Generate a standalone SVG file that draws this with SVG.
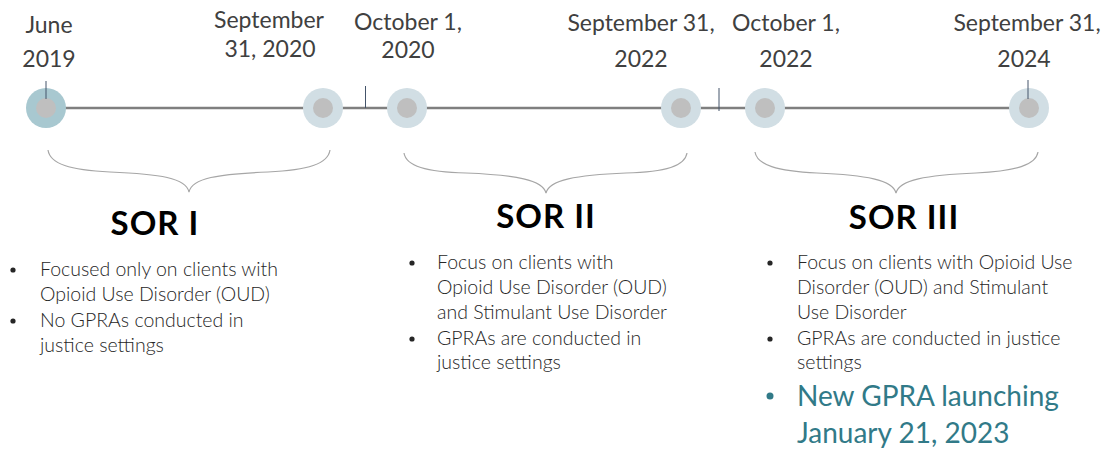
<svg xmlns="http://www.w3.org/2000/svg" width="1104" height="451" viewBox="0 0 1104 451">
<style>
.date{font-family:Lato,"Liberation Sans",sans-serif;font-size:23px;fill:#404040;text-anchor:middle}
.title{font-family:Lato,"Liberation Sans",sans-serif;font-size:33px;font-weight:bold;letter-spacing:1px;fill:#000;text-anchor:middle}
.body{font-family:Lato,"Liberation Sans",sans-serif;font-size:19.5px;font-weight:300;fill:#262626}
.big{font-family:Lato,"Liberation Sans",sans-serif;font-size:28px;fill:#317a88}
.brace{fill:none;stroke:#a6a6a6;stroke-width:1.2}
.tick{stroke:#44546a;stroke-width:1}
.outer{fill:#d1dee4}
.inner{fill:#bfbfbf}
</style>
<rect width="1104" height="451" fill="#fff"/>
<g id="connectors">
<line x1="46" y1="108" x2="1029" y2="108" stroke="#7f7f7f" stroke-width="2.5"/>
<line class="tick" x1="365.5" y1="86" x2="365.5" y2="108"/>
<line class="tick" x1="719" y1="88" x2="719" y2="111"/>
</g>
<g id="node-june2019">
<circle cx="46" cy="108" r="20" fill="#a8c8d0"/>
<circle class="inner" cx="46" cy="108" r="10"/>
<line class="tick" x1="46" y1="81" x2="46" y2="99"/>
<text class="date" x="49" y="33">June</text>
<text class="date" x="49" y="67">2019</text>
</g>
<g id="node-sep2020">
<circle class="outer" cx="323" cy="108" r="20"/>
<circle class="inner" cx="323" cy="108" r="10"/>
<text class="date" x="269" y="28">September</text>
<text class="date" x="270" y="57">31, 2020</text>
</g>
<g id="node-oct2020">
<circle class="outer" cx="407" cy="108" r="20"/>
<circle class="inner" cx="407" cy="108" r="10"/>
<text class="date" x="408" y="30">October 1,</text>
<text class="date" x="408" y="58">2020</text>
</g>
<g id="node-sep2022">
<circle class="outer" cx="681" cy="108" r="20"/>
<circle class="inner" cx="681" cy="108" r="10"/>
<text class="date" x="641" y="31">September 31,</text>
<text class="date" x="641" y="67">2022</text>
</g>
<g id="node-oct2022">
<circle class="outer" cx="765" cy="108" r="20"/>
<circle class="inner" cx="765" cy="108" r="10"/>
<text class="date" x="786" y="31">October 1,</text>
<text class="date" x="786" y="67">2022</text>
</g>
<g id="node-sep2024">
<circle class="outer" cx="1029" cy="108" r="20"/>
<circle class="inner" cx="1029" cy="108" r="10"/>
<line class="tick" x1="1028" y1="80" x2="1028" y2="99"/>
<text class="date" x="1027" y="31">September 31,</text>
<text class="date" x="1024" y="67">2024</text>
</g>
<g id="sor1">
<path class="brace" d="M48,150 C50,164 70,170 110,172 C160,174 186,178 189,192 C192,178 218,174 268,172 C308,170 328,164 330,150"/>
<text class="title" x="155" y="235">SOR I</text>
<g class="body">
<circle cx="13" cy="270" r="2.6" fill="#262626"/>
<text x="40" y="276">Focused only on clients with</text>
<text x="40" y="301">Opioid Use Disorder (OUD)</text>
<circle cx="13" cy="321" r="2.6" fill="#262626"/>
<text x="40" y="327">No GPRAs conducted in</text>
<text x="40" y="352">justice settings</text>
</g>
</g>
<g id="sor2">
<path class="brace" d="M404,153 C406,166 426,172 466,173 C516,175 543,180 546,193 C549,180 576,175 626,173 C666,172 685,166 687,153"/>
<text class="title" x="546" y="228">SOR II</text>
<g class="body">
<circle cx="412" cy="263" r="2.6" fill="#262626"/>
<text x="437" y="269">Focus on clients with</text>
<text x="437" y="294">Opioid Use Disorder (OUD)</text>
<text x="437" y="319">and Stimulant Use Disorder</text>
<circle cx="412" cy="339" r="2.6" fill="#262626"/>
<text x="437" y="345">GPRAs are conducted in</text>
<text x="437" y="369">justice settings</text>
</g>
</g>
<g id="sor3">
<path class="brace" d="M755,152 C757,165 777,171 817,173 C866,175 893,180 896,193 C899,180 926,175 976,173 C1016,171 1036,165 1038,152"/>
<text class="title" x="904" y="229">SOR III</text>
<g class="body">
<circle cx="770" cy="263" r="2.6" fill="#262626"/>
<text x="797" y="269">Focus on clients with Opioid Use</text>
<text x="797" y="294">Disorder (OUD) and Stimulant</text>
<text x="797" y="319">Use Disorder</text>
<circle cx="770" cy="339" r="2.6" fill="#262626"/>
<text x="797" y="345">GPRAs are conducted in justice</text>
<text x="797" y="369">settings</text>
</g>
<circle cx="770" cy="396" r="3.5" fill="#317a88"/>
<text class="big" x="797" y="406">New GPRA launching</text>
<text class="big" x="797" y="443">January 21, 2023</text>
</g>
</svg>
